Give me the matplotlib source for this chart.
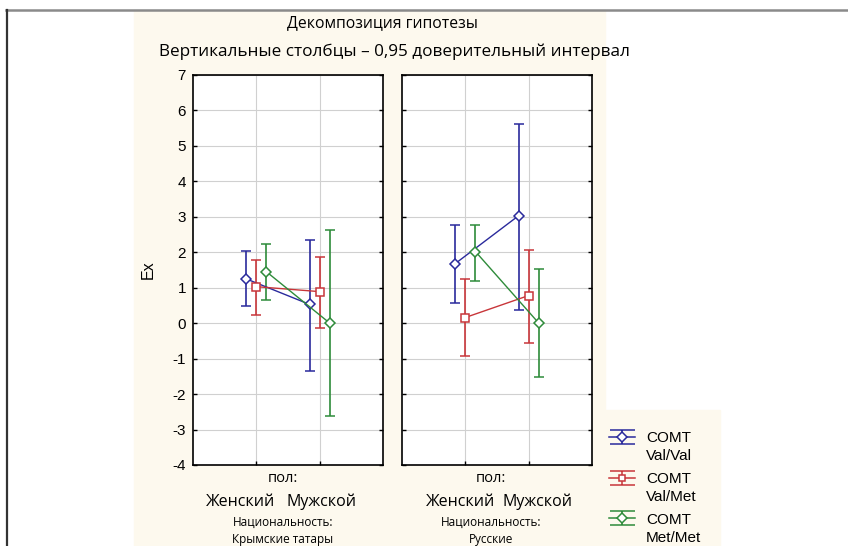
import numpy as np
import matplotlib
matplotlib.use('Agg')
import matplotlib.pyplot as plt
from matplotlib.lines import Line2D
from matplotlib.path import Path
from matplotlib.patches import Rectangle

W, H = 848, 546

sexes = ['Женский', 'Мужской']
groups = ['Крымские татары', 'Русские']
series = ['Val/Val', 'Val/Met', 'Met/Met']
colors = ['#2a2a9c', '#c8363a', '#2e8b3a']
markers = ['D', 's', 'D']
offsets = [-0.16, 0.0, 0.16]

# means and 0.95 CI bounds, [female, male] per genotype
tatar_mean = [[1.25, 0.53], [1.03, 0.89], [1.45, 0.00]]
tatar_lo = [[0.48, -1.35], [0.22, -0.13], [0.65, -2.62]]
tatar_hi = [[2.03, 2.35], [1.78, 1.86], [2.24, 2.64]]

rus_mean = [[1.68, 3.03], [0.16, 0.78], [2.02, 0.00]]
rus_lo = [[0.58, 0.37], [-0.92, -0.57], [1.20, -1.53]]
rus_hi = [[2.76, 5.62], [1.24, 2.06], [2.78, 1.52]]

cream = '#fdf9ee'
title_font = 'Open Sans'
axis_font = 'Liberation Sans'
plt.rcParams['axes.unicode_minus'] = False

fig = plt.figure(figsize=(W / 100, H / 100), dpi=100)
fig.patch.set_facecolor('white')

# background panels and frame
fig.patches.append(Rectangle((134 / W, 0), (605 - 134) / W, 1 - 10 / H,
                             transform=fig.transFigure, color=cream, zorder=-10))
fig.patches.append(Rectangle((603 / W, 0), (720 - 603) / W, (546 - 410) / H,
                             transform=fig.transFigure, color=cream, zorder=-10))
fig.add_artist(Line2D([6 / W, 1], [1 - 9.5 / H] * 2, color='#8a8a8a', lw=1.8))
fig.add_artist(Line2D([6.5 / W] * 2, [0, 1 - 9.5 / H], color='#333333', lw=1.6))


def px_axes(x0, y0, x1, y1):
    return fig.add_axes([x0 / W, 1 - y1 / H, (x1 - x0) / W, (y1 - y0) / H])


ax1 = px_axes(193, 75, 383, 465)
ax2 = px_axes(402, 75, 592, 465)

for ax, means, lows, highs in [(ax1, tatar_mean, tatar_lo, tatar_hi),
                               (ax2, rus_mean, rus_lo, rus_hi)]:
    ax.set_facecolor('white')
    ax.set_xlim(0, 3)
    ax.set_ylim(-4, 7)
    ax.set_yticks(range(-4, 8))
    ax.set_xticks([1, 2])
    ax.grid(True, color='#d0d0d0', lw=0.8)
    ax.set_axisbelow(True)
    ax.tick_params(direction='in', left=True, right=True, bottom=True, top=False,
                   labelbottom=False, length=3, width=1, labelsize=11, pad=5)
    for sp in ax.spines.values():
        sp.set_linewidth(1.2)
    for i in range(3):
        x = np.array([1, 2]) + offsets[i]
        m = np.array(means[i])
        err = [m - np.array(lows[i]), np.array(highs[i]) - m]
        ax.errorbar(x, m, yerr=err, color=colors[i], marker=markers[i],
                    mfc='white', mec=colors[i], ms=5.5, mew=1.1, lw=1,
                    elinewidth=1.2, capsize=3.5, capthick=1.1)

for lab in ax1.get_yticklabels():
    lab.set_family(axis_font)
ax2.tick_params(labelleft=False)
ax1.set_ylabel('Ex', fontsize=11.5, family=axis_font, labelpad=12)

# titles
fig.text(382 / W, 1 - 23 / H, 'Декомпозиция гипотезы', ha='center', va='center',
         fontsize=11.3, family=title_font)
fig.text(394 / W, 1 - 52 / H, 'Вертикальные столбцы – 0,95 доверительный интервал',
         ha='center', va='center', fontsize=12.3, family=title_font)

# factor labels under the panels
for cx, sx, grp in [(283, (241, 321), groups[0]), (491, (461, 538), groups[1])]:
    fig.text(cx / W, 1 - 478 / H, 'пол:', ha='center', va='center',
             fontsize=10.5, family=title_font)
    for x, s in zip(sx, sexes):
        fig.text(x / W, 1 - 502 / H, s, ha='center', va='center',
                 fontsize=11.5, family=title_font)
    fig.text(cx / W, 1 - 522 / H, 'Национальность:', ha='center', va='center',
             fontsize=8.5, family=title_font)
    fig.text(cx / W, 1 - 539 / H, grp, ha='center', va='center',
             fontsize=8.5, family=title_font)

# legend icons: caps + stem, then mean marker on a line
cap_path = Path([(-1, 0.55), (1, 0.55), (0, 0.55), (0, -0.55), (-1, -0.55), (1, -0.55)],
                [Path.MOVETO, Path.LINETO, Path.MOVETO, Path.LINETO, Path.MOVETO, Path.LINETO])
handles = []
for c, mk in zip(colors, markers):
    caps = Line2D([], [], ls='none', marker=cap_path, ms=18, mfc='none', mec=c, mew=1.1)
    mid = Line2D([], [], color=c, lw=1.1, marker=mk, mfc='white', mec=c, ms=5, mew=1.1)
    handles.append((caps, mid))

leg = fig.legend(handles, ['COMT'] * 3, loc='upper left',
                 bbox_to_anchor=(603 / W, 1 - 425 / H), frameon=False,
                 handlelength=1.7, handletextpad=0.7, labelspacing=1.75,
                 borderaxespad=0, prop={'family': axis_font, 'size': 11})
fig.canvas.draw()
for t, s in zip(leg.get_texts(), series):
    bb = t.get_window_extent()
    fig.text(bb.x0 / W, (bb.y0 - 4) / H, s, ha='left', va='top',
             fontsize=11, family=axis_font)

fig.savefig('out.png', dpi=100)
